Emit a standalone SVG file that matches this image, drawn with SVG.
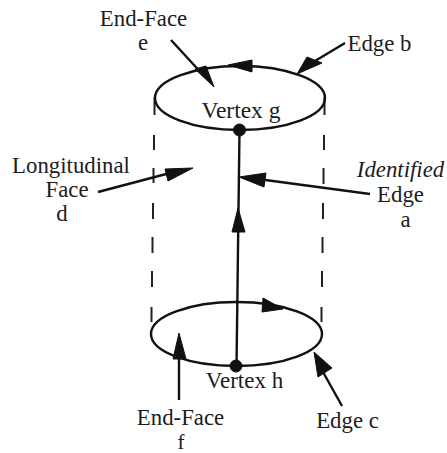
<svg xmlns="http://www.w3.org/2000/svg" width="447" height="453" viewBox="0 0 447 453">
<style>
text{font-family:"Liberation Serif","Times New Roman",serif;font-size:22.800px;fill:#1c1c1c;text-anchor:middle}
.l{fill:none;stroke:#111;stroke-width:2.400}
.d{fill:none;stroke:#222;stroke-width:2}
.h{fill:#111;stroke:#111;stroke-width:1;stroke-linejoin:round}
</style>
<rect width="447" height="453" fill="#fff"/>
<g id="connectors">
<g id="dashes" class="d">
<path d="M154.500 97V115M154 135V150M153.500 168V183M153 203V219M152.500 237V253M152 271V287M151.500 307V322"/>
<path d="M324.500 97V115M324 135V150M323.500 168V184M323 203V219M322.500 237V253M322 271V287M321.500 307V322"/>
</g>
<path class="l" d="M239.500 130L236.500 367"/>
<path class="h" d="M238 208L232 232H245Z"/>
<path class="l" d="M171 40L205 77"/>
<path class="h" d="M214 87L195 69L206 66Z"/>
<path class="h" d="M252 60V72L228 65Z"/>
<path class="l" d="M345 43L305 67"/>
<path class="h" d="M297 74L307 57L322 63Z"/>
<path class="l" d="M98 192L170 173"/>
<path class="h" d="M193 168L165 169L168 181Z"/>
<path class="l" d="M370 194L258 179"/>
<path class="h" d="M239 177L266 173L264 187Z"/>
<path class="h" d="M283 309L263 298L262 312Z"/>
<path class="l" d="M179 400V350"/>
<path class="h" d="M179 333L173 359H186Z"/>
<path class="l" d="M342 406L323 372"/>
<path class="h" d="M314 352L318 377L332 368Z"/>
</g>
<g id="edge-b-top"><ellipse class="l" cx="240" cy="98" rx="85" ry="32"/></g>
<g id="edge-c-bottom"><ellipse class="l" cx="236.500" cy="334" rx="85.500" ry="32"/></g>
<g id="vertex-g"><circle class="h" cx="239.500" cy="130" r="6"/><text x="241" y="118" style="font-size:23.500px">Vertex g</text></g>
<g id="vertex-h"><circle class="h" cx="236" cy="366" r="6"/><text x="244.500" y="388" style="font-size:23px">Vertex h</text></g>
<g id="face-e"><text x="143.500" y="26">End-Face</text><text x="143" y="50">e</text></g>
<g id="edge-b"><text x="379.500" y="51">Edge b</text></g>
<g id="face-d"><text x="71" y="173">Longitudinal</text><text x="67" y="197">Face</text><text x="62" y="221">d</text></g>
<g id="edge-a"><text x="400.500" y="177" font-style="italic">Identified</text><text x="400.500" y="202">Edge</text><text x="405.500" y="227">a</text></g>
<g id="face-f"><text x="180.500" y="425">End-Face</text><text x="181" y="448.500" style="font-size:21px">f</text></g>
<g id="edge-c"><text x="347.500" y="428">Edge c</text></g>
</svg>
